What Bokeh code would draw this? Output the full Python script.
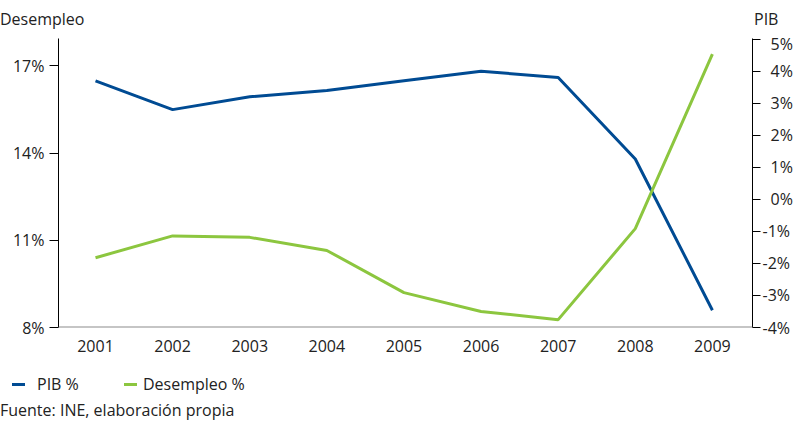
from bokeh.plotting import figure
from bokeh.models import (Range1d, LinearAxis, FixedTicker, Span, Div, CustomJSTickFormatter)
from bokeh.layouts import column
from bokeh.embed import file_html
from bokeh.resources import INLINE

years = [2001, 2002, 2003, 2004, 2005, 2006, 2007, 2008, 2009]
pib = [3.7, 2.8, 3.2, 3.4, 3.7, 4.0, 3.8, 1.26, -3.46]
desempleo = [10.4, 11.15, 11.1, 10.65, 9.2, 8.55, 8.27, 11.4, 17.4]
left_ticks = [8, 11, 14, 17]
right_ticks = [-4, -3, -2, -1, 0, 1, 2, 3, 4, 5]
series_names = ["PIB %", "Desempleo %"]
left_title = "Desempleo"
right_title = "PIB"
source_note = "Fuente: INE, elaboración propia"

FONT = "Open Sans"
FS = "16px"
TXT = "#222222"
BLUE = "#004b93"
GREEN = "#8cc63f"

p = figure(width=795, height=330, output_backend="svg", toolbar_location=None,
           x_range=Range1d(2000.52, 2009.52), y_range=Range1d(8, 17.94),
           min_border_left=58, min_border_right=43, min_border_top=6, min_border_bottom=35,
           margin=(0, 0, 0, 0))
p.extra_y_ranges = {"pib": Range1d(-4, 5.02)}
p.outline_line_color = None
p.xgrid.visible = False
p.ygrid.visible = False
p.background_fill_color = "white"
p.border_fill_color = "white"

# bottom axis
xa = p.xaxis[0]
xa.ticker = FixedTicker(ticks=years)
xa.axis_line_color = None
xa.major_tick_line_color = None
xa.minor_tick_line_color = None
xa.major_label_standoff = 6
xa.major_label_text_font = FONT
xa.major_label_text_font_size = FS
xa.major_label_text_color = TXT

# left axis
ya = p.yaxis[0]
ya.ticker = FixedTicker(ticks=left_ticks)
ya.formatter = CustomJSTickFormatter(code="return tick + '%';")
ya.axis_line_color = "black"
ya.major_tick_line_color = "black"
ya.major_tick_out = 9
ya.major_tick_in = 0
ya.minor_tick_line_color = None
ya.major_label_standoff = 5
ya.major_label_text_font = FONT
ya.major_label_text_font_size = FS
ya.major_label_text_color = TXT

# right axis
ra = LinearAxis(y_range_name="pib", ticker=FixedTicker(ticks=right_ticks))
ra.formatter = CustomJSTickFormatter(code="return (tick >= 0 ? '\\u2002' : '') + tick + '%';")
ra.axis_line_color = "black"
ra.major_tick_line_color = "black"
ra.major_tick_out = 8
ra.major_tick_in = 0
ra.minor_tick_line_color = None
ra.major_label_standoff = 2
ra.major_label_text_font = FONT
ra.major_label_text_font_size = FS
ra.major_label_text_color = TXT
p.add_layout(ra, "right")

# baseline
p.add_layout(Span(location=8, dimension="width", line_color="#8c8c8c", line_width=2))

r_pib = p.line(years, pib, y_range_name="pib", line_color=BLUE, line_width=3)
r_des = p.line(years, desempleo, line_color=GREEN, line_width=3)

base_style = f"font-family:'{FONT}';font-size:{FS};line-height:16px;color:{TXT};white-space:nowrap;"

header_html = (
    f'<div style="position:relative;width:795px;height:32px;{base_style}">'
    f'<span style="position:absolute;left:0px;top:11px;">{left_title}</span>'
    f'<span style="position:absolute;left:754px;top:11px;">{right_title}</span>'
    '</div>'
)
header = Div(text=header_html, width=795, height=32, margin=(0, 0, 0, 0))

footer_html = (
    f'<div style="position:relative;width:795px;height:59px;overflow:hidden;{base_style}">'
    f'<span style="position:absolute;left:12px;top:21px;width:13px;height:3px;background:{BLUE};"></span>'
    f'<span style="position:absolute;left:37px;top:14px;">{series_names[0]}</span>'
    f'<span style="position:absolute;left:124px;top:21px;width:13px;height:3px;background:{GREEN};"></span>'
    f'<span style="position:absolute;left:143px;top:14px;">{series_names[1]}</span>'
    f'<span style="position:absolute;left:0px;top:40px;">{source_note}</span>'
    '</div>'
)
footer = Div(text=footer_html, width=795, height=59, margin=(0, 0, 0, 0))

layout = column(header, p, footer, spacing=0)
open("out.html", "w").write(file_html(layout, INLINE))
